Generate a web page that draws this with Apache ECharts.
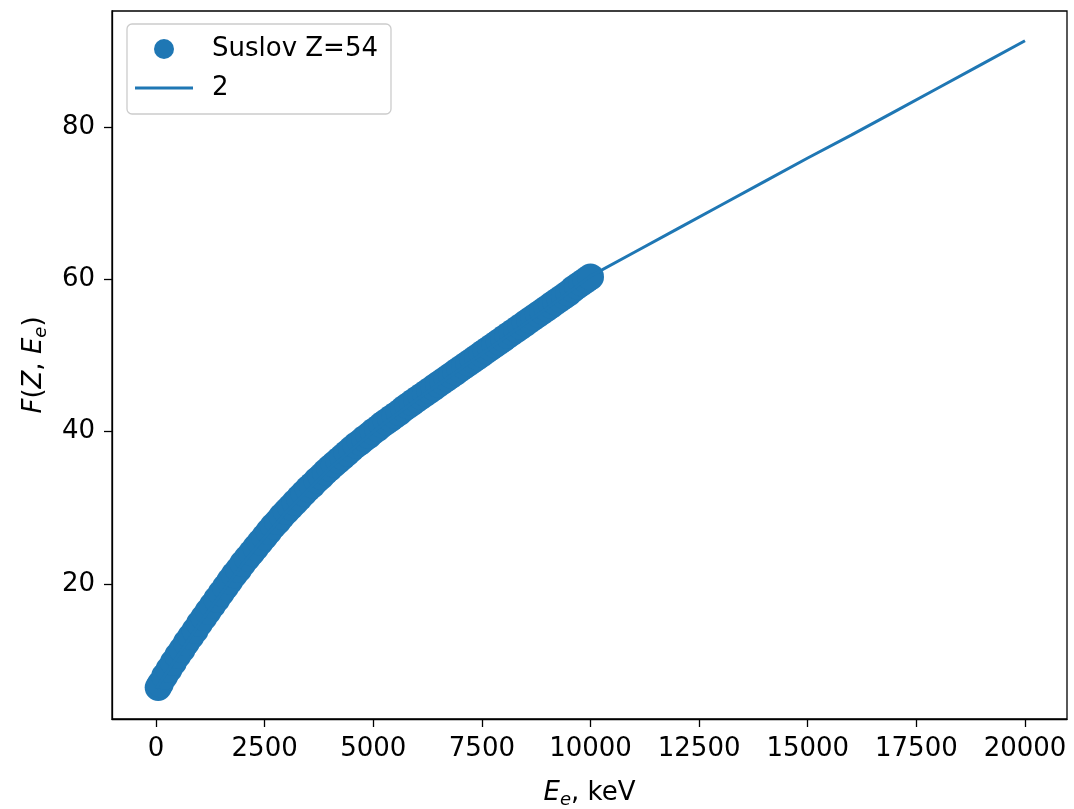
<!DOCTYPE html>
<html>
<head>
<meta charset="utf-8">
<script src="https://cdn.jsdelivr.net/npm/echarts@6/dist/echarts.min.js"></script>
<style>
  html, body { margin: 0; padding: 0; background: #ffffff; }
  #chart { width: 1074px; height: 809px; }
</style>
</head>
<body>
<div id="chart"></div>
<script>
// Electron kinetic energy, keV (tabulated points)
const energies = [
  50, 100, 200, 300, 400, 500, 600, 700, 800, 900,
  1000, 1100, 1200, 1300, 1400, 1500, 1600, 1700, 1800, 1900,
  2000, 2100, 2200, 2300, 2400, 2500, 2600, 2700, 2800, 2900,
  3000, 3100, 3200, 3300, 3400, 3500, 3600, 3700, 3800, 3900,
  4000, 4100, 4200, 4300, 4400, 4500, 4600, 4700, 4800, 4900,
  5000, 5100, 5200, 5300, 5400, 5500, 5600, 5700, 5800, 5900,
  6000, 6100, 6200, 6300, 6400, 6500, 6600, 6700, 6800, 6900,
  7000, 7100, 7200, 7300, 7400, 7500, 7600, 7700, 7800, 7900,
  8000, 8100, 8200, 8300, 8400, 8500, 8600, 8700, 8800, 8900,
  9000, 9100, 9200, 9300, 9400, 9500, 9600, 9700, 9800, 9900,
  10000
];
// Fermi function values F(Z=54, Ee), Suslov table
const suslovF = [
  6.4, 6.9, 7.9, 8.8, 9.7, 10.6, 11.4, 12.3, 13.1, 13.9,
  14.8, 15.6, 16.4, 17.2, 18.0, 18.8, 19.6, 20.4, 21.2, 21.9,
  22.7, 23.4, 24.1, 24.8, 25.5, 26.2, 26.9, 27.6, 28.2, 28.9,
  29.5, 30.1, 30.7, 31.3, 31.9, 32.5, 33.0, 33.6, 34.1, 34.7,
  35.2, 35.7, 36.2, 36.7, 37.2, 37.7, 38.2, 38.6, 39.1, 39.5,
  40.0, 40.4, 40.9, 41.3, 41.7, 42.1, 42.5, 43.0, 43.4, 43.8,
  44.2, 44.6, 45.0, 45.4, 45.8, 46.2, 46.6, 47.0, 47.4, 47.8,
  48.2, 48.6, 49.0, 49.4, 49.8, 50.2, 50.6, 51.0, 51.4, 51.8,
  52.2, 52.6, 53.0, 53.4, 53.8, 54.2, 54.6, 55.0, 55.4, 55.8,
  56.2, 56.6, 57.0, 57.4, 57.8, 58.2, 58.7, 59.1, 59.5, 59.9,
  60.3
];
// Curve "2" over the extended energy range
const curveEnergies = [
  0, 1000, 2000, 3000, 4000, 5000, 6000, 7000, 8000, 9000, 10000,
  11000, 12000, 13000, 14000, 15000, 16000, 17000, 18000, 19000, 20000
];
const curveF = [
  6.3, 14.8, 22.7, 29.5, 35.2, 40.0, 44.2, 48.2, 52.2, 56.2, 60.4,
  63.5, 66.6, 69.7, 72.8, 75.9, 78.9, 82.0, 85.1, 88.2, 91.3
];
// Axis ticks
const xTicks = [0, 2500, 5000, 7500, 10000, 12500, 15000, 17500, 20000];
const yTicks = [20, 40, 60, 80];

const BLUE = '#1f77b4';
const FONT = 'DejaVu Sans';
const FS = 26;

const chart = echarts.init(document.getElementById('chart'), null, { renderer: 'canvas' });

const mathRich = {
  i: { fontFamily: FONT, fontStyle: 'italic', fontSize: FS, color: '#000', lineHeight: 32, verticalAlign: 'middle' },
  n: { fontFamily: FONT, fontSize: FS, color: '#000', lineHeight: 32, verticalAlign: 'middle' },
  s: { fontFamily: FONT, fontStyle: 'italic', fontSize: 18, color: '#000', lineHeight: 20, verticalAlign: 'bottom' }
};

chart.setOption({
  animation: false,
  backgroundColor: '#ffffff',
  grid: {
    left: 112, right: 7, top: 11, bottom: 90,
    outerBoundsMode: 'none',
    containLabel: false,
    show: true, borderColor: '#000', borderWidth: 1.3, backgroundColor: 'transparent'
  },
  legend: {
    orient: 'vertical',
    left: 127, top: 24,
    padding: [12, 13, 13, 8],
    itemWidth: 58, itemHeight: 20, itemGap: 13,
    backgroundColor: 'rgba(255,255,255,0.8)',
    borderColor: '#cccccc', borderWidth: 1.3, borderRadius: 5,
    textStyle: { fontFamily: FONT, fontSize: FS, color: '#000', padding: [0, 0, 0, 14] },
    data: [
      { name: 'Suslov Z=54', icon: 'circle' },
      { name: '2', icon: 'path://M0,0L58,0L58,3L0,3Z' }
    ]
  },
  xAxis: {
    type: 'value',
    min: -1013, max: 20967,
    name: '{i|E}{s|e}{n|, keV}',
    nameLocation: 'middle',
    nameGap: 58,
    nameTextStyle: { rich: mathRich },
    axisLine: { show: true, onZero: false, lineStyle: { color: '#000', width: 1.3 } },
    axisTick: { show: true, inside: false, length: 8, lineStyle: { color: '#000', width: 1.3 }, customValues: xTicks },
    axisLabel: {
      show: true, margin: 17, fontFamily: FONT, fontSize: FS, color: '#000',
      customValues: xTicks,
      formatter: v => String(v)
    },
    splitLine: { show: false }
  },
  yAxis: {
    type: 'value',
    min: 2.27, max: 95.2,
    name: '{i|F}{n|(}{i|Z}{n|, }{i|E}{s|e}{n|)}',
    nameLocation: 'middle',
    nameGap: 62,
    nameRotate: 90,
    nameTextStyle: { rich: mathRich },
    axisLine: { show: true, onZero: false, lineStyle: { color: '#000', width: 1.3 } },
    axisTick: { show: true, inside: false, length: 8, lineStyle: { color: '#000', width: 1.3 }, customValues: yTicks },
    axisLabel: {
      show: true, margin: 17, fontFamily: FONT, fontSize: FS, color: '#000',
      customValues: yTicks,
      formatter: v => String(v)
    },
    splitLine: { show: false }
  },
  series: [
    {
      name: 'Suslov Z=54',
      type: 'scatter',
      symbol: 'circle',
      symbolSize: 27,
      itemStyle: { color: BLUE, opacity: 1 },
      data: energies.map((e, k) => [e, suslovF[k]]),
      z: 2
    },
    {
      name: '2',
      type: 'line',
      symbol: 'none',
      showSymbol: false,
      smooth: false,
      lineStyle: { color: BLUE, width: 3 },
      itemStyle: { color: BLUE },
      data: curveEnergies.map((e, k) => [e, curveF[k]]),
      z: 3
    }
  ]
});
</script>
</body>
</html>
